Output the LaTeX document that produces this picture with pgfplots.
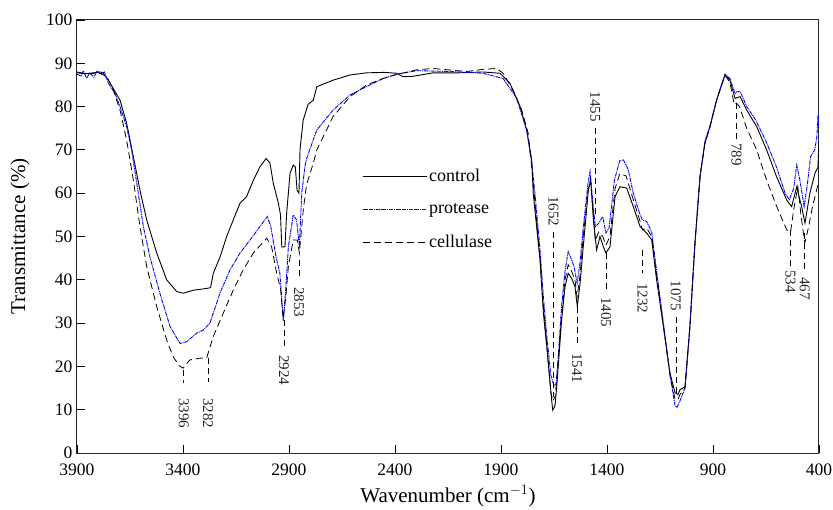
\documentclass[border=0pt]{standalone}
\usepackage{fontspec}
\setmainfont{Liberation Serif}
\usepackage{pgfplots}
\pgfplotsset{compat=1.18}
\usepackage{pgfplotstable}

\tikzset{
  annot/.style={dash pattern=on 6pt off 4pt, line width=0.7pt, black},
  lab/.style={rotate=-90, inner sep=0pt, font=\fontsize{15}{17}\selectfont, black!85},
}

\pgfplotstableread{
wn T
3900 88.0
3860 87.6
3823 87.8
3790 88.0
3776 87.7
3752 86.1
3729 84.2
3697 81.5
3666 76.2
3634 68.4
3603 60.7
3571 53.8
3524 46.2
3477 40.0
3430 37.3
3399 36.9
3351 37.6
3288 38.0
3270 38.2
3257 41.5
3225 45.3
3194 50.0
3163 53.8
3131 57.7
3100 59.2
3068 63.0
3037 66.1
3008 68.0
2990 67.0
2974 62.3
2950 57.7
2940 55.0
2934 47.6
2919 47.6
2911 55.4
2895 64.6
2880 66.5
2870 66.0
2862 60.7
2853 60.0
2848 70.0
2833 76.9
2810 80.5
2785 81.5
2769 84.6
2692 86.1
2612 87.3
2534 87.8
2450 87.9
2392 87.7
2362 86.9
2315 87.0
2220 87.8
2100 87.8
1985 88.0
1905 87.7
1858 85.4
1810 80.0
1779 74.6
1755 67.7
1748 60.0
1716 44.6
1700 32.3
1684 24.5
1661 12.2
1656 9.9
1645 11.0
1637 15.3
1614 30.7
1598 38.4
1583 41.5
1567 40.4
1551 38.4
1540 33.8
1527 39.2
1512 47.6
1488 60.7
1477 63.0
1464 53.8
1449 46.9
1433 50.0
1417 47.6
1405 46.2
1386 47.6
1362 59.2
1339 61.5
1307 61.2
1276 56.9
1244 52.3
1213 50.8
1189 49.2
1166 40.0
1134 29.2
1103 18.5
1079 13.9
1065 13.5
1056 14.6
1032 15.3
1009 29.2
985 48.5
961 63.8
938 71.6
914 75.4
883 81.5
860 85.0
843 87.3
820 86.1
796 81.9
772 82.3
741 79.2
694 75.4
647 70.0
600 63.8
552 58.4
529 56.9
505 61.5
498 60.0
482 56.9
466 53.1
443 60.0
419 64.6
405 66.0
400 72.0
}\control

\pgfplotstableread{
wn T
3900 87.5
3880 87.0
3870 88.3
3855 86.5
3840 87.8
3820 86.8
3805 88.3
3790 87.5
3770 88.0
3752 85.4
3720 83.0
3697 80.0
3666 75.4
3642 70.0
3618 62.3
3587 52.3
3556 45.3
3509 36.9
3461 29.2
3414 25.3
3383 25.7
3335 27.7
3304 28.4
3273 30.0
3225 37.0
3178 42.3
3131 46.2
3084 49.2
3037 52.3
3002 54.6
2986 52.3
2961 45.3
2943 41.5
2927 30.5
2915 38.0
2903 47.6
2880 55.0
2864 53.8
2851 47.6
2840 60.0
2825 66.1
2817 68.0
2769 74.6
2692 79.2
2612 82.7
2534 84.6
2456 86.5
2392 87.5
2297 88.3
2140 88.1
1985 87.7
1890 86.5
1826 81.9
1779 74.6
1755 67.0
1740 60.0
1716 47.0
1700 36.0
1684 27.0
1665 18.0
1650 15.5
1640 16.0
1630 22.0
1614 34.0
1598 42.0
1583 46.5
1570 45.0
1555 43.0
1541 39.2
1527 44.0
1512 52.0
1490 62.0
1480 65.0
1465 57.0
1455 52.3
1440 53.0
1420 54.6
1405 50.8
1390 52.0
1365 63.0
1340 67.5
1323 67.7
1300 65.5
1276 60.0
1244 55.0
1232 53.8
1213 53.5
1189 51.0
1166 42.0
1134 30.0
1103 18.0
1079 11.0
1070 10.5
1056 12.0
1032 15.0
1009 29.0
985 48.5
961 64.0
938 72.0
914 75.5
883 81.5
843 87.5
820 86.5
796 83.0
789 83.4
772 83.5
741 80.0
700 77.0
650 72.0
600 66.0
560 60.0
540 58.5
520 61.0
505 66.5
490 63.0
470 56.9
455 62.0
440 68.4
420 70.0
410 73.0
405 78.0
400 75.0
}\protease

\pgfplotstableread{
wn T
3900 87.8
3850 87.5
3800 87.8
3760 87.0
3730 84.0
3697 79.2
3666 72.3
3634 63.0
3603 52.3
3571 43.0
3524 33.8
3477 26.1
3446 22.2
3417 20.1
3399 19.6
3380 20.8
3367 21.5
3320 21.9
3288 22.0
3257 26.9
3210 32.3
3163 37.6
3116 42.3
3068 46.2
3005 49.6
2982 47.6
2958 41.5
2940 38.0
2927 31.0
2915 36.0
2903 43.0
2880 49.2
2861 49.2
2851 46.2
2833 56.0
2817 62.0
2785 67.0
2769 70.0
2692 77.7
2612 82.3
2534 85.0
2456 86.5
2392 87.4
2297 88.5
2220 88.8
2062 88.1
1985 88.6
1920 88.8
1890 87.7
1843 83.8
1802 79.2
1772 73.9
1755 66.0
1740 58.0
1716 45.0
1700 34.0
1684 25.0
1665 14.0
1655 12.0
1645 13.0
1637 17.0
1614 32.0
1598 40.0
1583 43.5
1567 42.0
1551 40.0
1541 36.0
1527 41.0
1512 50.0
1488 61.0
1478 63.0
1464 55.0
1455 49.0
1440 51.0
1420 50.0
1405 48.0
1386 50.0
1362 61.0
1340 64.5
1310 64.0
1276 58.5
1244 53.5
1232 51.5
1213 52.0
1189 50.0
1166 41.0
1134 29.5
1103 18.0
1079 12.5
1065 12.3
1056 13.5
1032 15.0
1009 29.0
985 48.5
961 64.0
938 71.6
914 75.4
883 81.5
843 87.3
820 85.5
800 80.5
789 80.8
775 80.0
741 75.0
694 70.0
647 63.0
600 57.0
552 51.5
534 51.0
520 56.0
500 61.5
485 55.0
467 48.5
450 52.0
430 57.0
400 63.0
}\cellulase

\begin{document}
\begin{tikzpicture}
\begin{axis}[
  scale only axis,
  width=742pt, height=433pt,
  x dir=reverse,
  xmin=400, xmax=3900, ymin=0, ymax=100,
  xtick={3900,3400,2900,2400,1900,1400,900,400},
  ytick={0,10,...,100},
  scaled x ticks=false,
  /pgf/number format/1000 sep={},
  /pgf/number format/assume math mode=true,
  tick align=inside,
  tick pos=left,
  major tick length=8pt,
  axis line style={line width=1pt, black!85},
  every tick/.style={line width=0.9pt, black},
  ticklabel style={font=\fontsize{17.5}{20}\selectfont},
  xticklabel style={yshift=-7pt},
  yticklabel style={xshift=-1pt},
  label style={font=\fontsize{21}{24}\selectfont},
  xlabel={Wavenumber (cm$^{-1}$)},
  ylabel={Transmittance (\%)},
  xlabel style={at={(rel axis cs:0.5,0)}, anchor=center, yshift=-43pt},
  ylabel style={at={(rel axis cs:0,0.5)}, anchor=center, rotate=0, yshift=57pt},
  legend style={draw=none, fill=none, at={(rel axis cs:0.384,0.66)}, anchor=north west,
    font=\fontsize{18}{21}\selectfont, row sep=16pt, inner sep=0pt},
  legend cell align=left,
  legend image code/.code={\path (0pt,0pt) -- (64pt,0pt); \draw[#1] (0pt,0pt) -- (58pt,0pt);},
]
\addplot[black, line width=0.9pt] table[x=wn,y=T] {\control};
\addlegendentry{control}
\addplot[blue, line width=0.9pt, dash pattern=on 4pt off 0.8pt on 1pt off 0.8pt] table[x=wn,y=T] {\protease};
\addlegendentry{protease}
\addplot[black, line width=0.8pt, dash pattern=on 7pt off 4pt] table[x=wn,y=T] {\cellulase};
\addlegendentry{cellulase}

% annotations
\draw[annot] (axis cs:3396,19.2) -- (axis cs:3396,16.2);
\node[lab, anchor=west] at (axis cs:3396,12.7) {3396};
\draw[annot] (axis cs:3282,21.9) -- (axis cs:3282,16.4);
\node[lab, anchor=west] at (axis cs:3282,12.7) {3282};
\draw[annot] (axis cs:2924,30.7) -- (axis cs:2924,24.0);
\node[lab, anchor=west] at (axis cs:2924,22.6) {2924};
\draw[annot] (axis cs:2853,44.6) -- (axis cs:2853,40.0);
\node[lab, anchor=west] at (axis cs:2853,38.3) {2853};
\node[lab, anchor=east] at (axis cs:1652,52.3) {1652};
\draw[annot] (axis cs:1652,51.0) -- (axis cs:1652,13.0);
\draw[annot] (axis cs:1541,33.7) -- (axis cs:1541,24.5);
\node[lab, anchor=west] at (axis cs:1541,23.1) {1541};
\node[lab, anchor=east] at (axis cs:1455,76.4) {1455};
\draw[annot] (axis cs:1455,75.0) -- (axis cs:1455,54.5);
\draw[annot] (axis cs:1405,46.2) -- (axis cs:1405,37.6);
\node[lab, anchor=west] at (axis cs:1405,36.0) {1405};
\draw[annot] (axis cs:1232,46.9) -- (axis cs:1232,41.6);
\node[lab, anchor=west] at (axis cs:1232,39.2) {1232};
\node[lab, anchor=east] at (axis cs:1075,32.8) {1075};
\draw[annot] (axis cs:1075,31.4) -- (axis cs:1075,13.9);
\draw[annot] (axis cs:789,80.8) -- (axis cs:789,72.3);
\node[lab, anchor=west] at (axis cs:789,71.6) {789};
\draw[annot] (axis cs:534,51.5) -- (axis cs:534,43.0);
\node[lab, anchor=west] at (axis cs:534,42.3) {534};
\draw[annot] (axis cs:467,50.8) -- (axis cs:467,41.6);
\node[lab, anchor=west] at (axis cs:467,40.6) {467};
\end{axis}
\pgfresetboundingbox
\useasboundingbox (-77pt,-56pt) rectangle (756pt,453pt);
\end{tikzpicture}
\end{document}
